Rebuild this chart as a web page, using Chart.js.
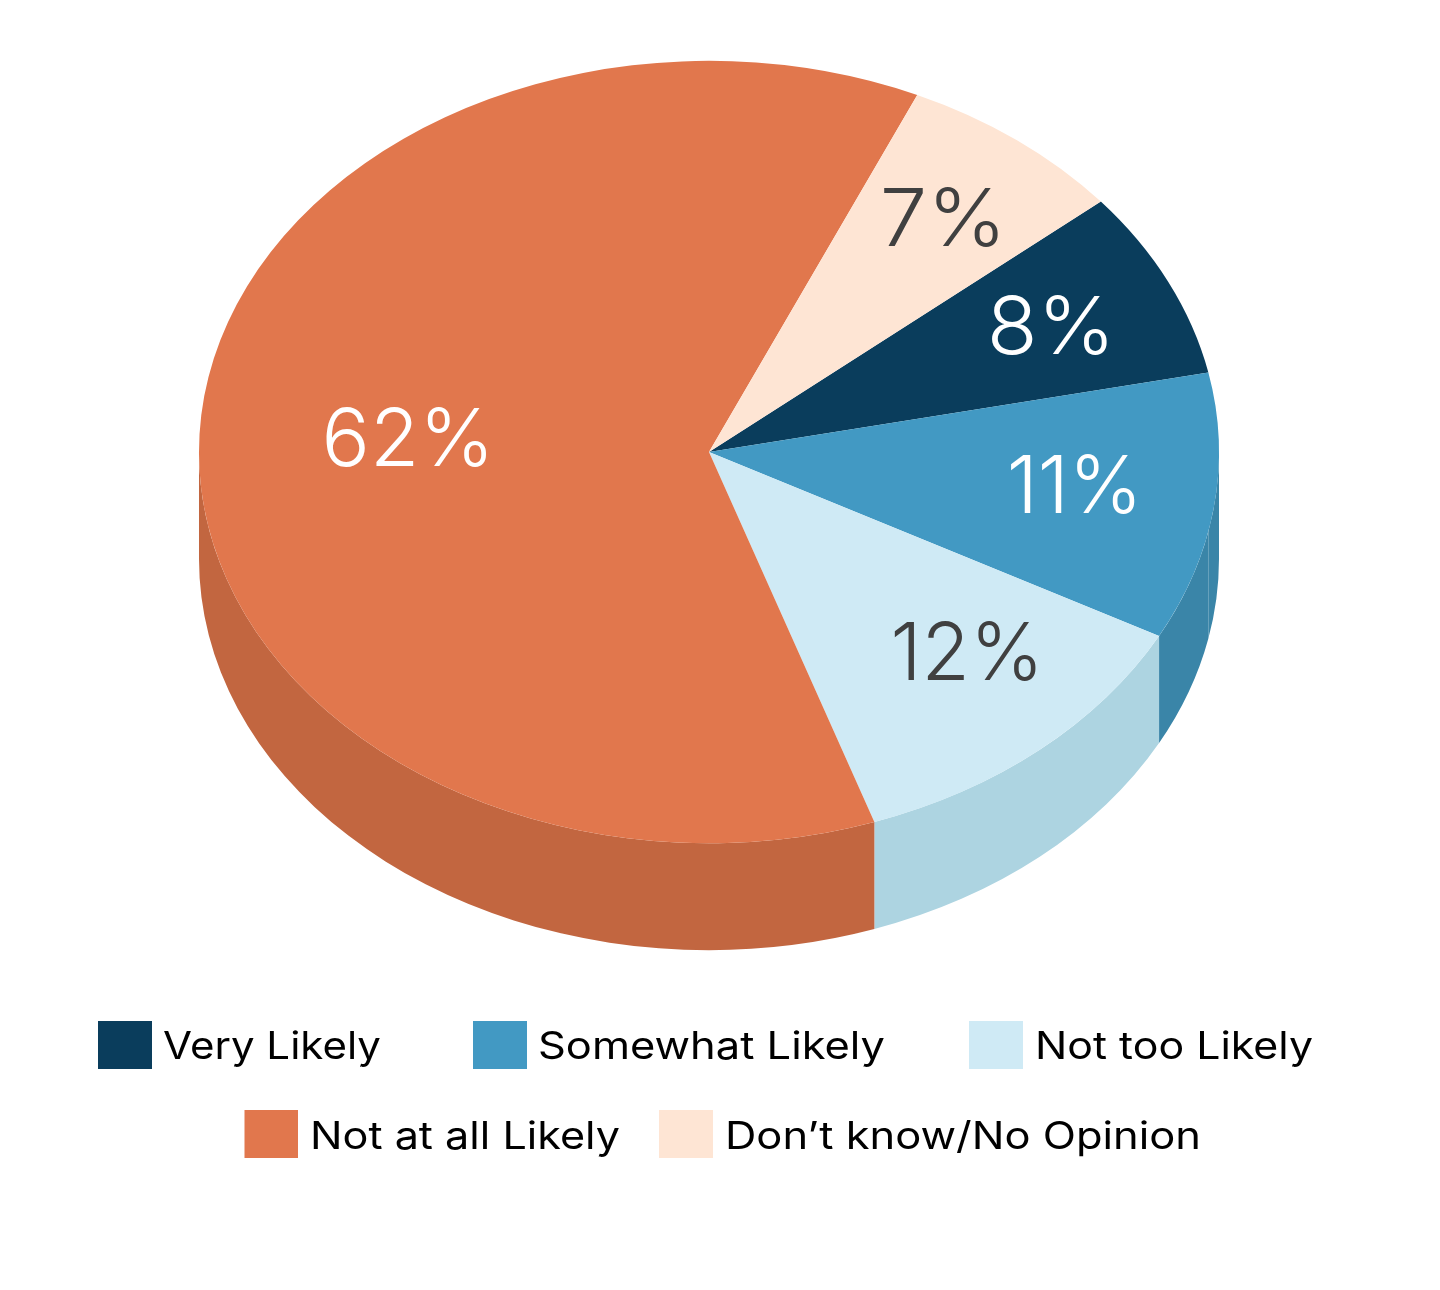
<!DOCTYPE html>
<html><head><meta charset="utf-8">
<style>html,body{margin:0;padding:0;background:#fff}canvas{display:block}</style>
<script src="https://cdn.jsdelivr.net/npm/chart.js@4"></script>
</head><body>
<canvas id="c" width="1440" height="1290"></canvas>
<script>
const categories = ["Very Likely","Somewhat Likely","Not too Likely","Not at all Likely","Don’t know/No Opinion"];
const values = [7.8,11.05,11.95,61.95,7.25];
const faceColors = ["#0A3D5C","#4299C3","#CFEAF5","#E1774D","#FEE5D4"];
const wallColors = ["#3A85A8","#3A85A8","#ADD4E1","#C26640","#E6CDBD"];
const labelColors = ["#FFFFFF","#FFFFFF","#404040","#FFFFFF","#404040"];

const tiltY = 0.767, depth = 107, centerX = 709, centerY = 452;
const labelFont = '350 80px Inter';
const legendFont = '400 38px Inter';
// radial fraction, angle nudge (deg), horizontal stretch and x nudge of each percentage label
const labelPlace = [[.741,.1,1.04,1.5],[.718,-1.5,.985,2],[.716,-3.9,.985,3],[.594,.8,1.005,1.5],[.751,0,1.06,3]];
// legend layout: box left, box right, text left, text right, row top, baseline drop
const legendPlace = [[98,152,163,381,1021,38],[473,527,538,885,1021,38],[969,1023,1035,1313,1021,38],[244.5,298,310,620,1110,39],[659,713,725,1201,1110,39]];

function project(ctx, arc, dy){
  ctx.translate(centerX, centerY + dy);
  ctx.scale(1, tiltY);
  ctx.translate(-arc.x, -arc.y);
}
// side wall of one slice, taken from the arc element's own angles and radius
function wall(ctx, arc, from, to, color){
  if(to <= from) return;
  const R = arc.outerRadius;
  ctx.beginPath();
  ctx.ellipse(centerX, centerY, R, R*tiltY, 0, from, to);
  ctx.ellipse(centerX, centerY+depth, R, R*tiltY, 0, to, from, true);
  ctx.closePath();
  ctx.fillStyle = color;
  ctx.fill();
}
const pie3d = {
  id:'pie3d',
  beforeDatasetDraw(chart){
    const ctx = chart.ctx, arcs = chart.getDatasetMeta(0).data;
    arcs.forEach((arc,i)=>{
      let lo = Math.max(arc.startAngle,0), hi = Math.min(arc.endAngle,Math.PI);
      if(arc.endAngle <= 0){ lo = 0; hi = -arc.endAngle; }       // back slice shows through as a sliver
      else if(arc.startAngle < 0){ lo = -arc.startAngle; }
      wall(ctx, arc, lo, hi, wallColors[i]);
    });
    ctx.save();
    project(ctx, arcs[0], 0);
  },
  afterDatasetDraw(chart){ chart.ctx.restore(); },
  afterDraw(chart){
    const ctx = chart.ctx, arcs = chart.getDatasetMeta(0).data;
    ctx.save();
    ctx.textAlign='center'; ctx.textBaseline='alphabetic'; ctx.font=labelFont;
    arcs.forEach((arc,i)=>{
      const a = (arc.startAngle+arc.endAngle)/2 + labelPlace[i][1]*Math.PI/180;
      const r = arc.outerRadius*labelPlace[i][0];
      ctx.fillStyle = labelColors[i];
      ctx.save();
      ctx.translate(centerX+r*Math.cos(a)+labelPlace[i][3], centerY+r*Math.sin(a)*tiltY+28);
      ctx.scale(labelPlace[i][2],1);
      ctx.fillText(Math.round(values[i])+'%', 0, 0);
      ctx.restore();
    });
    ctx.textAlign='left'; ctx.font=legendFont;
    categories.forEach((name,i)=>{
      const [bl,br,tl,tr,top,drop] = legendPlace[i];
      ctx.fillStyle = faceColors[i];
      ctx.fillRect(bl,top,br-bl,48);
      ctx.fillStyle = '#000';
      const w = ctx.measureText(name).width;
      ctx.save();
      ctx.translate(tl,top+drop);
      ctx.scale((tr-tl)/w,1);
      ctx.fillText(name,0,0);
      ctx.restore();
    });
    ctx.restore();
  }
};
new Chart(document.getElementById('c'),{
  type:'pie',
  data:{labels:categories,datasets:[{data:values,backgroundColor:faceColors,borderWidth:0,hoverOffset:0}]},
  plugins:[pie3d],
  options:{
    responsive:false,animation:false,events:[],rotation:50.2,
    layout:{padding:{left:199,right:220,top:135,bottom:135}},
    plugins:{legend:{display:false},tooltip:{enabled:false},title:{display:false}}
  }
});
</script>
</body></html>
